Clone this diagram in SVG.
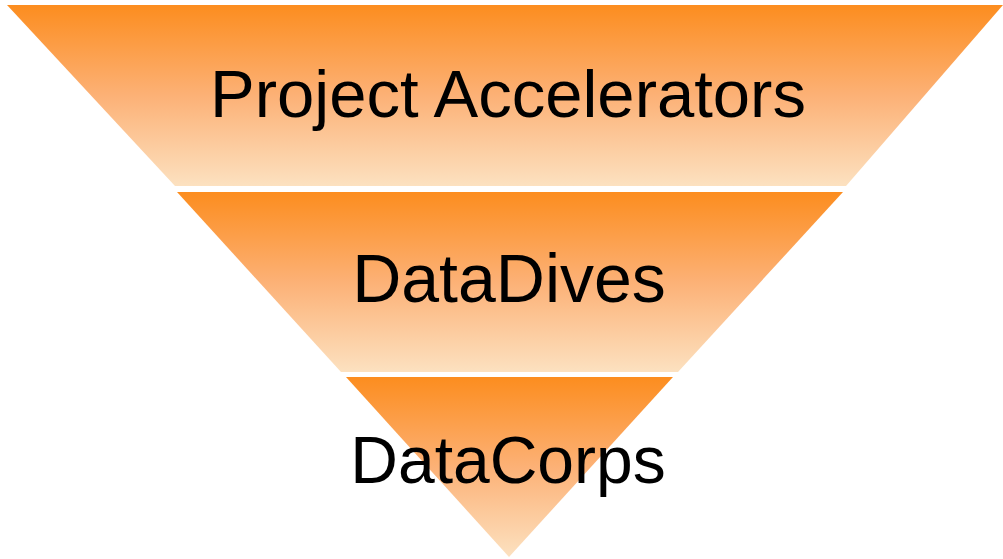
<svg xmlns="http://www.w3.org/2000/svg" width="1003" height="559" viewBox="0 0 1003 559">
  <defs>
    <linearGradient id="g" x1="0" y1="0" x2="0" y2="1">
      <stop offset="0" stop-color="#FC8D1F"/>
      <stop offset="0.5" stop-color="#FCB176"/>
      <stop offset="1" stop-color="#FCE1C0"/>
    </linearGradient>
  </defs>
  <style>
    .band { stroke: none; }
    .lbl { font-family: "Liberation Sans", Arial, sans-serif; fill: #000; text-anchor: middle; }
  </style>
  <rect width="1003" height="559" fill="#fff"/>
  <g id="project-accelerators">
    <polygon class="band" fill="url(#g)" points="7,5 1003,5 846,186 175,186"/>
    <text class="lbl" x="508" y="117" font-size="67">Project Accelerators</text>
  </g>
  <g id="datadives">
    <polygon class="band" fill="url(#g)" points="177,192 843,192 678,372 341,372"/>
    <text class="lbl" x="509" y="302" font-size="68">DataDives</text>
  </g>
  <g id="datacorps">
    <polygon class="band" fill="url(#g)" points="346,377 673,377 509,557"/>
    <text class="lbl" x="508" y="483" font-size="66">DataCorps</text>
  </g>
  <g id="connectors"/>
</svg>
